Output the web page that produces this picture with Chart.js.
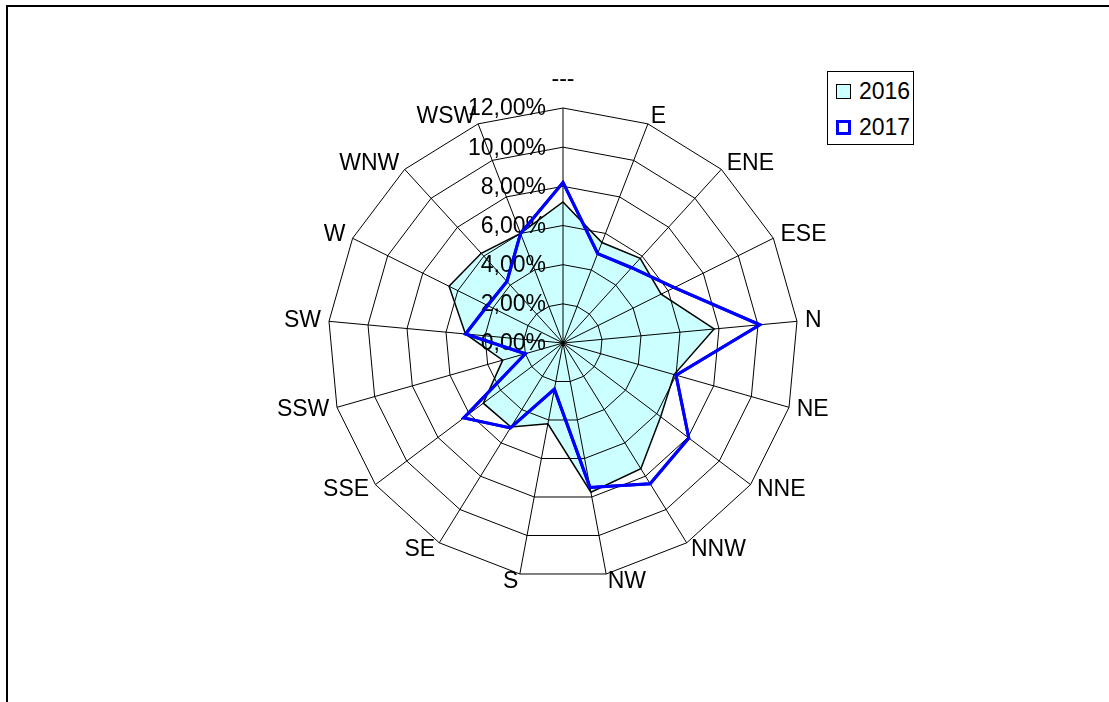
<!DOCTYPE html>
<html>
<head>
<meta charset="utf-8">
<script src="https://cdn.jsdelivr.net/npm/chart.js@4.4.1/dist/chart.umd.min.js"></script>
<style>
  body { margin: 0; background: #fff; font-family: "Liberation Sans", Arial, sans-serif; }
  #wrap { position: relative; width: 1109px; height: 702px; overflow: hidden; }
  #frame { position: absolute; left: 6px; top: 5px; width: 1200px; height: 800px;
           border-left: 2px solid #000; border-top: 2px solid #000; }
  #legend { position: absolute; left: 827px; top: 71px; width: 85px; height: 72px;
            border: 1px solid #000; background: #fff; }
  .item { position: absolute; left: 8px; height: 23px; font-size: 23px; line-height: 23px; }
  .sw { position: absolute; left: 0; top: 4px; width: 15px; height: 15px; box-sizing: border-box; }
  .item span { position: absolute; left: 23px; top: 0; }
</style>
</head>
<body>
<div id="wrap">
  <div id="frame"></div>
  <canvas id="myChart"></canvas>
  <div id="legend"></div>
</div>
<script>
// 風向カテゴリ
const directions = ['---', 'E', 'ENE', 'ESE', 'N', 'NE', 'NNE', 'NNW', 'NW', 'S', 'SE', 'SSE', 'SSW', 'SW', 'W', 'WNW', 'WSW']
// 年ごとの割合 (%)
const values2016 = [7.2, 5.5, 5.85, 5.6, 7.75, 5.9, 6.25, 7.55, 7.75, 4.2, 5.05, 5.1, 3.2, 5.0, 6.5, 6.2, 6.0]
const values2017 = [8.2, 4.9, 5.2, 6.35, 10.1, 6.0, 8.05, 8.45, 7.5, 2.4, 5.1, 6.35, 2.0, 5.0, 4.3, 4.25, 6.0]
const seriesNames = ['2016', '2017']
// 目盛り
const tickValues = [0, 2, 4, 6, 8, 10, 12]
const tickLabels = ['0,00%', '2,00%', '4,00%', '6,00%', '8,00%', '10,00%', '12,00%']

const FONT = '23px "Liberation Sans", Arial, sans-serif'

// 目盛りと方位ラベルを描く (2017 の線はグリッドの上に描き直す)
const labelPlugin = {
  id: 'labelPlugin',
  afterDraw(chart) {
    const ctx = chart.ctx
    const scale = chart.scales.r
    ctx.save()
    ctx.fillStyle = '#000'
    ctx.font = FONT
    ctx.textBaseline = 'middle'
    ctx.textAlign = 'right'
    tickValues.forEach((v, i) => {
      const y = scale.yCenter - scale.getDistanceFromCenterForValue(v)
      ctx.fillText(tickLabels[i], scale.xCenter - 17, y + 1)
    })
    directions.forEach((d, i) => {
      const angle = scale.getIndexAngle(i)
      const sin = Math.sin(angle)
      const cos = Math.cos(angle)
      const p = scale.getPointPosition(i, scale.drawingArea + 8)
      let y = p.y
      if (Math.abs(sin) < 0.1) {
        ctx.textAlign = 'center'
        y -= cos * 20
      } else {
        ctx.textAlign = sin > 0 ? 'left' : 'right'
      }
      ctx.fillText(d, p.x, y)
    })
    ctx.restore()
    chart.getDatasetMeta(1).controller.draw()
  }
}

const ctx = document.getElementById('myChart').getContext('2d')
document.getElementById('myChart').width = 1109
document.getElementById('myChart').height = 702

const myChart = new Chart(ctx, {
  type: 'radar',
  data: {
    labels: directions,
    datasets: [
      {
        label: seriesNames[0],
        data: values2016,
        backgroundColor: '#CCFFFF',
        borderColor: '#000000',
        borderWidth: 1.5,
        fill: true,
        pointRadius: 0,
        order: 1,
      },
      {
        label: seriesNames[1],
        data: values2017,
        backgroundColor: 'rgba(0,0,0,0)',
        borderColor: '#0000FF',
        borderWidth: 3,
        fill: false,
        pointRadius: 0,
        order: 0,
      },
    ],
  },
  options: {
    responsive: false,
    animation: false,
    events: [],
    layout: { padding: { left: 328, right: 311, top: 108, bottom: 124 } },
    elements: { line: { tension: 0 } },
    plugins: {
      legend: { display: false },
      tooltip: { enabled: false },
    },
    scales: {
      r: {
        min: 0,
        max: 12,
        ticks: { stepSize: 2, display: false },
        grid: { color: '#000', lineWidth: 1, z: 1 },
        angleLines: { color: '#000', lineWidth: 1 },
        pointLabels: { display: false },
      },
    },
  },
  plugins: [labelPlugin],
})

// 凡例
const legendStyles = [
  { background: '#CCFFFF', border: '1.5px solid #000' },
  { background: '#fff', border: '3px solid #0000FF' },
]
const legend = document.getElementById('legend')
seriesNames.forEach((name, i) => {
  const item = document.createElement('div')
  item.className = 'item'
  item.style.top = (8 + i * 36) + 'px'
  const sw = document.createElement('div')
  sw.className = 'sw'
  sw.style.background = legendStyles[i].background
  sw.style.border = legendStyles[i].border
  const text = document.createElement('span')
  text.textContent = name
  item.appendChild(sw)
  item.appendChild(text)
  legend.appendChild(item)
})
</script>
</body>
</html>
